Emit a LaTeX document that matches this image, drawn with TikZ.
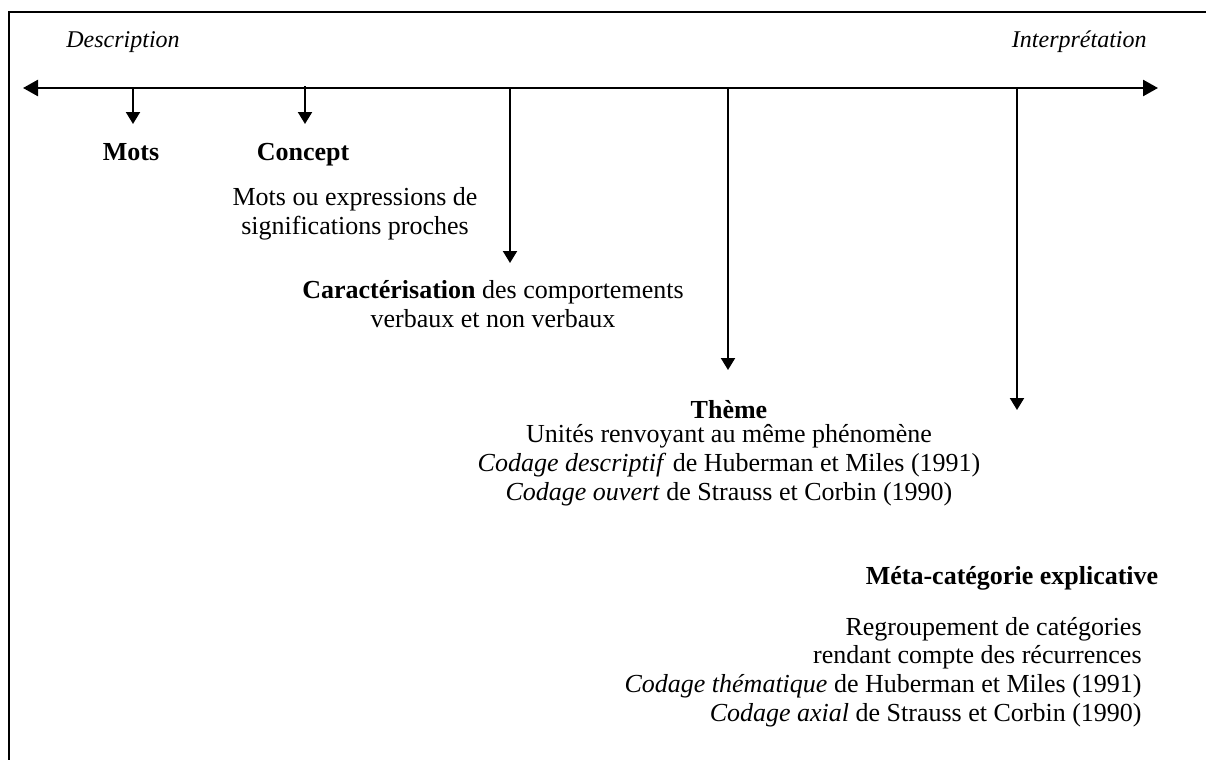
\documentclass[tikz,border=0pt]{standalone}
\usepackage{fontspec}
\setmainfont{Liberation Serif}
\usetikzlibrary{arrows.meta}
\begin{document}
\begin{tikzpicture}[x=0.5pt,y=-0.5pt,
  every node/.style={font=\fontsize{13}{14.3}\selectfont, inner sep=0pt},
  frameline/.style={line width=1pt},
  axisline/.style={line width=1.3pt, {Triangle[length=7.5pt,width=8pt]}-{Triangle[length=7.5pt,width=8pt]}},
  tickarrow/.style={line width=1pt, -{Triangle[length=6pt,width=7pt]}},
  head/.style={font=\fontsize{13}{14.3}\selectfont\bfseries},
  pole/.style={font=\fontsize{12}{14}\selectfont\itshape},
  body/.style={align=center},
]
\useasboundingbox (0,0) rectangle (1206,760);
% frame (partly outside the picture)
\coordinate (fbl) at (9,760);
\coordinate (ftl) at (9,12);
\coordinate (ftr) at (1206,12);
\draw[frameline] (fbl) -- (ftl) -- (ftr);

% axis
\coordinate (axL) at (23,88);
\coordinate (axR) at (1158,88);
\draw[axisline] (axL) -- (axR);

\node[pole, anchor=base west] (desc) at (66,47) {Description};
\node[pole, anchor=base east] (interp) at (1147,47) {Interprétation};

% tick points on axis and arrow ends
\coordinate (t1) at (133,88);  \coordinate (e1) at (133,124);
\coordinate (t2) at (305,86);  \coordinate (e2) at (305,124);
\coordinate (t3) at (510,88);  \coordinate (e3) at (510,263);
\coordinate (t4) at (728,88);  \coordinate (e4) at (728,370);
\coordinate (t5) at (1017,88); \coordinate (e5) at (1017,410);
\draw[tickarrow] (t1) -- (e1);
\draw[tickarrow] (t2) -- (e2);
\draw[tickarrow] (t3) -- (e3);
\draw[tickarrow] (t4) -- (e4);
\draw[tickarrow] (t5) -- (e5);

% labels
\node[head, anchor=base] (mots) at (131,160) {Mots};
\node[head, anchor=base] (concept) at (303,160) {Concept};
\node[body, anchor=base] (conceptdesc) at (355,234) {Mots ou expressions de\\significations proches};

\node[body, anchor=base] (carac) at (493,327) {\textbf{Caractérisation} des comportements\\verbaux et non verbaux};

\node[head, anchor=base] (theme) at (729,418) {Thème};
\node[body, anchor=base] (themedesc) at (729,500) {Unités renvoyant au même phénomène\\\textit{Codage descriptif} de Huberman et Miles (1991)\\\textit{Codage ouvert} de Strauss et Corbin (1990)};

\node[head, anchor=base] (meta) at (1012,584) {Méta-catégorie explicative};
\node[align=right, anchor=base east] (metadesc) at (1142,721) {Regroupement de catégories\\rendant compte des récurrences\\\textit{Codage thématique} de Huberman et Miles (1991)\\\textit{Codage axial} de Strauss et Corbin (1990)};
\end{tikzpicture}
\end{document}
